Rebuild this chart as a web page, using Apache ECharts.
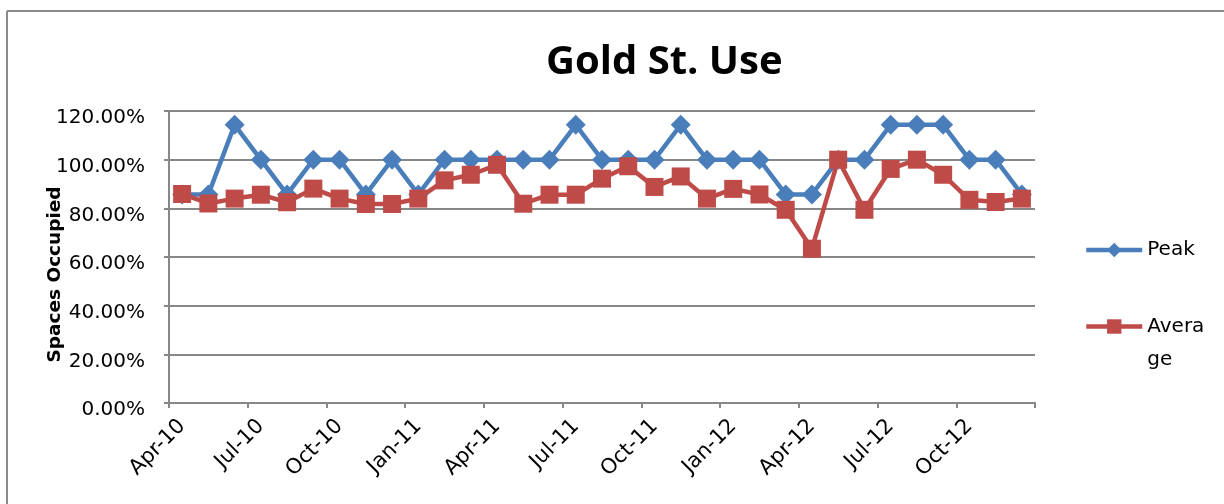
<!DOCTYPE html>
<html><head><meta charset="utf-8">
<script src="https://cdn.jsdelivr.net/npm/echarts@6/dist/echarts.min.js"></script>
<style>html,body{margin:0;padding:0;background:#fff;overflow:hidden}#c{width:1224px;height:504px}</style>
</head><body><div id="c"></div>
<script>
const months = ['Apr-10','May-10','Jun-10','Jul-10','Aug-10','Sep-10','Oct-10','Nov-10','Dec-10',
  'Jan-11','Feb-11','Mar-11','Apr-11','May-11','Jun-11','Jul-11','Aug-11','Sep-11','Oct-11','Nov-11','Dec-11',
  'Jan-12','Feb-12','Mar-12','Apr-12','May-12','Jun-12','Jul-12','Aug-12','Sep-12','Oct-12','Nov-12','Dec-12'];
const peak = [0.857,0.857,1.143,1.0,0.857,1.0,1.0,0.857,1.0,0.857,1.0,
  1.0,1.0,1.0,1.0,1.143,1.0,1.0,1.0,1.143,1.0,1.0,
  1.0,0.857,0.857,1.0,1.0,1.143,1.143,1.143,1.0,1.0,0.857];
const average = [0.859,0.820,0.840,0.856,0.825,0.881,0.840,0.818,0.818,0.840,0.915,
  0.938,0.979,0.819,0.856,0.856,0.922,0.973,0.888,0.931,0.840,0.880,
  0.857,0.794,0.634,1.0,0.794,0.962,1.0,0.938,0.835,0.826,0.840];

const BLUE = '#4A7EBB', RED = '#BE4B48', GRAY = '#878787';
const FONT = 'DejaVu Sans';
const chart = echarts.init(document.getElementById('c'), null, {renderer: 'canvas'});
chart.setOption({
  backgroundColor: '#fff',
  animation: false,
  title: {
    text: 'Gold St. Use', left: 546, top: 43, padding: 0,
    textStyle: {fontFamily: 'Open Sans', fontWeight: 'bold', fontSize: 40, color: '#000'}
  },
  graphic: [{
    type: 'line', shape: {x1: 7, y1: 11, x2: 1224, y2: 11},
    style: {stroke: '#8a8a8a', lineWidth: 2}, silent: true
  }, {
    type: 'line', shape: {x1: 7, y1: 11, x2: 7, y2: 504},
    style: {stroke: '#8a8a8a', lineWidth: 2}, silent: true
  }],
  grid: {left: 169, top: 111, width: 866, height: 292, outerBoundsMode: 'none'},
  legend: [{
    data: ['Peak'], orient: 'vertical', left: 1084, top: 240, padding: 0,
    itemWidth: 56, itemHeight: 18,
    lineStyle: {width: 4.5},
    textStyle: {fontFamily: FONT, fontSize: 20, color: '#000'}
  }, {
    data: ['Average'], orient: 'vertical', left: 1084, top: 277, padding: 0,
    itemWidth: 56, itemHeight: 18,
    lineStyle: {width: 4.5},
    formatter: () => '\nAvera\nge',
    textStyle: {fontFamily: FONT, fontSize: 20, color: '#000', lineHeight: 33}
  }],
  xAxis: {
    type: 'category', data: months, boundaryGap: true,
    axisLine: {lineStyle: {color: GRAY, width: 2}},
    axisTick: {show: true, interval: 2, length: 5, lineStyle: {color: GRAY, width: 2}},
    axisLabel: {interval: 2, rotate: 45, margin: 20, fontFamily: FONT, fontSize: 21, color: '#000'},
    splitLine: {show: false}
  },
  yAxis: {
    type: 'value', min: 0, max: 1.2, interval: 0.2,
    name: 'Spaces Occupied', nameLocation: 'middle', nameGap: 104, nameMoveOverlap: false,
    nameTextStyle: {fontFamily: FONT, fontWeight: 'bold', fontSize: 18.5, color: '#000', padding: [0, 35, 0, 0]},
    axisLine: {show: true, lineStyle: {color: GRAY, width: 2}},
    axisTick: {show: true, length: 5, lineStyle: {color: GRAY, width: 2}},
    axisLabel: {margin: 24, fontFamily: FONT, fontSize: 20, color: '#000',
      verticalAlign: 'top', lineHeight: 14,
      formatter: v => (v * 100).toFixed(2) + '%'},
    splitLine: {show: true, lineStyle: {color: GRAY, width: 2}}
  },
  series: [{
    name: 'Peak', type: 'line', data: peak,
    symbol: 'diamond', symbolSize: 20, showSymbol: true, showAllSymbol: true,
    lineStyle: {color: BLUE, width: 4.5},
    itemStyle: {color: BLUE, borderWidth: 0}
  }, {
    name: 'Average', type: 'line', data: average,
    symbol: 'rect', symbolSize: 18, showSymbol: true, showAllSymbol: true,
    lineStyle: {color: RED, width: 4.5},
    itemStyle: {color: RED, borderWidth: 0}
  }]
});
</script></body></html>
